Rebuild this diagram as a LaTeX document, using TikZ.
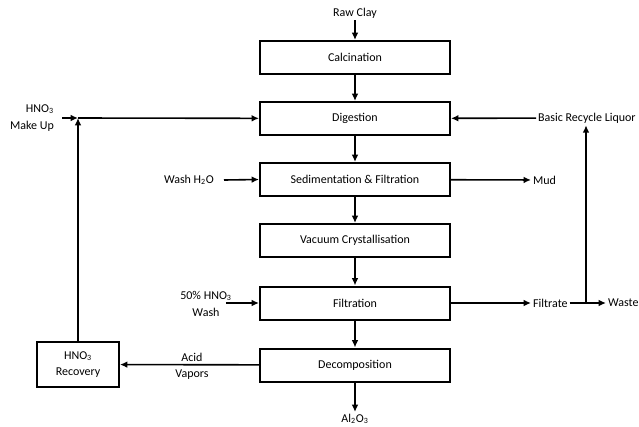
\documentclass[tikz,border=0pt]{standalone}
\usepackage{fontspec}
\setmainfont{Carlito}
\usetikzlibrary{arrows.meta}

\tikzset{every picture/.style={line width=1.2pt}}
\tikzset{stage/.style={draw,line width=1.5pt,minimum width=142.5pt,minimum height=24.75pt,inner sep=0pt,font=\fontsize{9}{10}\selectfont},
  stream/.style={font=\fontsize{9}{10.5}\selectfont,inner sep=1pt},
  flow/.style={-{Latex[length=5.5pt,width=5pt]}}}

\begin{document}
\begin{tikzpicture}[x=0.75pt,y=0.75pt,yscale=-1,xscale=1]
\useasboundingbox (0,0) rectangle (639,426);

% Process boxes
\draw (355,57.5) node [stage] (calc) {Calcination};
\draw (355,118.5) node [stage] (dig) {Digestion};
\draw (355,179.5) node [stage] (sed) {Sedimentation \& Filtration};
\draw (355,240.5) node [stage] (vac) {Vacuum Crystallisation};
\draw (355,303) node [stage] (filt) {Filtration};
\draw (355,365) node [stage] (dec) {Decomposition};
\draw (78,364.5) node [stage,minimum width=61.5pt,minimum height=33.75pt,align=center,font=\fontsize{9}{12}\selectfont] (rec) {HNO\textsubscript{3}\\Recovery};

% Text Node
\draw (355,13) node [stream] (clay) {Raw Clay};
\draw (355,419) node [stream] (alu) {Al\textsubscript{2}O\textsubscript{3}};
\draw (56,118) node [stream,anchor=east,align=right,font=\fontsize{9}{13}\selectfont] (mkup) {HNO\textsubscript{3}\\Make Up};
\draw (216,180) node [stream,anchor=east] (wash) {Wash H\textsubscript{2}O};
\draw (206,304) node [stream,align=center,font=\fontsize{9}{13}\selectfont] (acid) {50\% HNO\textsubscript{3}\\Wash};
\draw (531,180) node [stream,anchor=west] (mud) {Mud};
\draw (531,303) node [stream,anchor=west] (filtr) {Filtrate};
\draw (606,303) node [stream,anchor=west] (waste) {Waste};
\draw (536,118) node [stream,anchor=west] (liq) {Basic Recycle Liquor};
\draw (192,366) node [stream,align=center,font=\fontsize{9}{12}\selectfont] (vap) {Acid\\Vapors};

% Junctions
\coordinate (mix) at (78,118);
\coordinate (split) at (586,303);

% Main line
\draw [flow] (clay) -- (calc);
\draw [flow] (calc) -- (dig);
\draw [flow] (dig) -- (sed);
\draw [flow] (sed) -- (vac);
\draw [flow] (vac) -- (filt);
\draw [flow] (filt) -- (dec);
\draw [flow] (dec) -- (alu);

% Side streams
\draw [flow] (mkup.east |- mix) ++(6,0) -- (mix);
\draw [flow] (mix) -- (dig);
\draw [flow] (rec) -- (mix);
\draw [flow] (dec) -- (rec);
\draw [flow] (wash.east) ++(8,0) -- (sed.west);
\draw [flow] (acid.east |- filt) ++(-8,0) -- (filt.west);
\draw [flow] (sed) -- (mud);
\draw [flow] (filt) -- (filtr);
\draw [flow] (filtr) -- (waste);
\draw [flow] (split) -- (split |- liq.south);
\draw [flow] (liq) -- (dig);

\end{tikzpicture}
\end{document}
